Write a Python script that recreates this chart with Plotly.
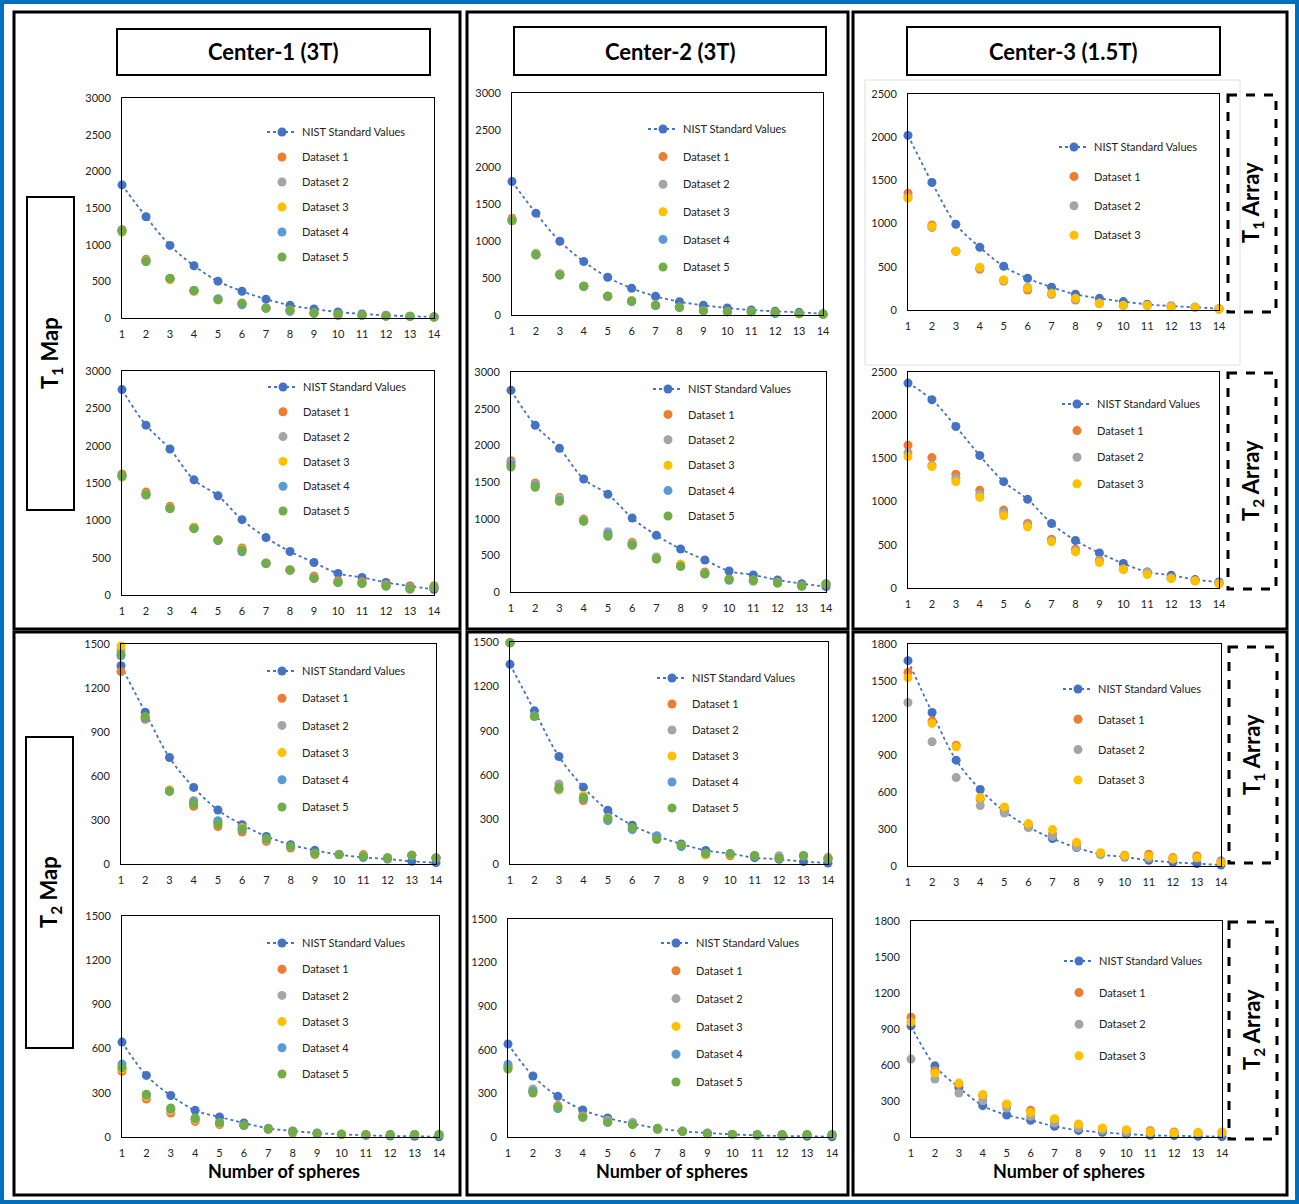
import plotly.graph_objects as go

W, H = 1299, 1204

# sphere number on the x axis
spheres = [1, 2, 3, 4, 5, 6, 7, 8, 9, 10, 11, 12, 13, 14]
tick_spheres = [1, 2, 3, 4, 5, 6, 7, 8, 9, 10, 11, 12, 13, 14]

# ---- Center-1, T1 map (upper and lower plot) ----
c1_t1a_nist = [1815, 1380, 990, 713, 502, 365, 257, 173, 122, 82, 55, 37, 24, 15]
c1_t1a_ds = [
    [1205, 800, 535, 370, 250, 195, 135, 105, 68, 32, 38, 28, 22, 14],
    [1190, 780, 540, 375, 255, 190, 133, 102, 66, 50, 36, 27, 22, 14],
    [1170, 775, 519, 361, 250, 192, 135, 105, 68, 50, 36, 27, 22, 14],
    [1185, 770, 538, 372, 262, 180, 135, 90, 66, 52, 36, 27, 22, 14],
    [1195, 771, 541, 376, 248, 203, 135, 108, 68, 54, 36, 27, 23, 14],
]
c1_t1b_nist = [2751, 2275, 1955, 1542, 1329, 1009, 769, 582, 436, 289, 236, 169, 120, 76]
c1_t1b_ds = [
    [1622, 1378, 1187, 905, 735, 631, 428, 338, 253, 191, 178, 142, 111, 124],
    [1600, 1350, 1160, 895, 740, 610, 430, 330, 230, 175, 160, 125, 76, 105],
    [1578, 1345, 1165, 911, 735, 605, 425, 335, 225, 170, 158, 122, 85, 100],
    [1590, 1340, 1158, 890, 730, 578, 422, 333, 222, 168, 155, 120, 84, 102],
    [1600, 1342, 1156, 889, 733, 600, 422, 333, 222, 169, 155, 120, 84, 102],
]

# ---- Center-2, T1 map ----
c2_t1a_nist = [1804, 1376, 997, 722, 510, 361, 253, 180, 131, 95, 68, 50, 36, 18]
c2_t1a_ds = [
    [1308, 820, 550, 385, 255, 192, 133, 106, 60, 46, 45, 32, 18, 9],
    [1290, 835, 559, 390, 253, 190, 131, 104, 59, 45, 45, 30, 18, 9],
    [1280, 815, 545, 388, 252, 189, 131, 104, 59, 45, 45, 30, 18, 9],
    [1275, 812, 541, 388, 253, 180, 131, 104, 59, 45, 45, 18, 18, 9],
    [1272, 812, 541, 388, 253, 189, 131, 104, 59, 45, 45, 32, 18, 9],
]
c2_t1b_nist = [2750, 2273, 1959, 1541, 1332, 1009, 773, 586, 436, 286, 232, 164, 114, 73]
c2_t1b_ds = [
    [1791, 1486, 1291, 995, 780, 677, 460, 360, 273, 175, 165, 132, 85, 110],
    [1768, 1464, 1280, 985, 823, 660, 477, 355, 255, 170, 145, 128, 84, 108],
    [1722, 1450, 1255, 975, 770, 650, 455, 382, 250, 172, 160, 126, 83, 109],
    [1736, 1450, 1250, 970, 795, 645, 452, 352, 248, 159, 162, 124, 82, 109],
    [1704, 1427, 1236, 964, 759, 636, 450, 350, 245, 177, 159, 123, 82, 109],
]

# ---- Center-3, T1 / T2 array (1.5T) ----
c3_t1a_nist = [2021, 1476, 993, 726, 506, 367, 263, 182, 135, 97, 66, 46, 31, 15]
c3_t1a_ds = [
    [1352, 985, 680, 471, 336, 232, 185, 116, 77, 54, 54, 39, 31, 12],
    [1310, 954, 678, 483, 345, 262, 182, 125, 77, 54, 54, 39, 31, 12],
    [1294, 966, 680, 495, 348, 255, 193, 135, 77, 54, 54, 39, 31, 12],
]
c3_t2a_nist = [2372, 2179, 1869, 1533, 1231, 1026, 747, 550, 406, 283, 186, 147, 97, 70]
c3_t2a_ds = [
    [1652, 1509, 1316, 1130, 902, 747, 565, 449, 321, 224, 170, 120, 85, 55],
    [1567, 1420, 1269, 1084, 871, 728, 550, 430, 310, 218, 186, 112, 83, 52],
    [1521, 1405, 1231, 1049, 836, 708, 534, 418, 294, 213, 155, 108, 81, 50],
]

# ---- Center-1, T2 map ----
c1_t2a_nist = [1352, 1035, 726, 522, 368, 268, 188, 132, 93, 64, 45, 34, 18, 9]
c1_t2a_ds = [
    [1312, 987, 500, 393, 256, 218, 154, 109, 64, 64, 64, 41, 59, 41],
    [1459, 1000, 500, 420, 285, 250, 165, 118, 72, 64, 55, 41, 59, 41],
    [1486, 1000, 506, 433, 280, 245, 168, 118, 72, 64, 55, 41, 59, 41],
    [1420, 995, 498, 427, 295, 235, 170, 120, 74, 64, 52, 41, 59, 41],
    [1432, 1005, 495, 408, 272, 240, 172, 120, 75, 64, 52, 41, 59, 41],
]
c1_t2b_nist = [644, 418, 282, 181, 136, 95, 59, 41, 27, 18, 11, 7, 5, 2]
c1_t2b_ds = [
    [445, 258, 163, 106, 84, 79, 54, 27, 23, 18, 16, 16, 16, 16],
    [470, 280, 185, 120, 95, 80, 54, 35, 23, 18, 16, 16, 16, 16],
    [460, 275, 180, 118, 92, 79, 54, 35, 23, 18, 16, 16, 16, 16],
    [495, 285, 190, 125, 97, 79, 54, 36, 23, 18, 16, 16, 16, 16],
    [472, 291, 197, 129, 99, 79, 54, 38, 23, 18, 16, 16, 16, 16],
]

# ---- Center-2, T2 map ----
c2_t2a_nist = [1349, 1035, 726, 519, 363, 262, 190, 135, 92, 70, 43, 32, 16, 7]
c2_t2a_ds = [
    [1495, 998, 505, 429, 300, 240, 170, 125, 65, 56, 56, 45, 56, 45],
    [1495, 1000, 541, 445, 316, 240, 170, 125, 70, 65, 56, 56, 56, 40],
    [1495, 998, 499, 462, 300, 238, 168, 123, 61, 65, 56, 40, 56, 40],
    [1495, 998, 508, 444, 293, 232, 190, 117, 70, 70, 56, 40, 56, 35],
    [1495, 999, 517, 449, 307, 246, 167, 129, 72, 68, 56, 38, 56, 34],
]
c2_t2b_nist = [640, 420, 280, 186, 131, 92, 60, 39, 28, 18, 11, 7, 5, 2]
c2_t2b_ds = [
    [480, 320, 216, 147, 105, 90, 55, 39, 23, 18, 16, 16, 16, 16],
    [485, 330, 210, 140, 115, 101, 55, 39, 23, 18, 16, 16, 16, 16],
    [475, 310, 205, 138, 103, 88, 55, 39, 23, 18, 16, 16, 16, 16],
    [500, 315, 195, 137, 102, 87, 55, 39, 23, 18, 16, 16, 16, 16],
    [468, 303, 206, 135, 101, 85, 55, 39, 23, 18, 16, 16, 16, 16],
]

# ---- Center-3, T1 / T2 array (lower block) ----
c3_t1b_nist = [1665, 1245, 858, 620, 444, 317, 222, 149, 95, 73, 46, 30, 19, 8]
c3_t1b_ds = [
    [1570, 1175, 980, 541, 471, 338, 257, 181, 100, 87, 95, 68, 81, 35],
    [1326, 1007, 717, 490, 430, 311, 241, 154, 92, 76, 65, 55, 65, 43],
    [1527, 1156, 966, 555, 479, 344, 295, 192, 108, 84, 81, 60, 68, 27],
]
c3_t2b_nist = [926, 593, 413, 261, 183, 139, 89, 55, 39, 25, 14, 11, 6, 3]
c3_t2b_ds = [
    [998, 552, 441, 344, 270, 222, 148, 100, 65, 55, 53, 42, 35, 38],
    [649, 483, 366, 302, 241, 172, 116, 75, 55, 40, 35, 30, 30, 32],
    [957, 532, 449, 355, 275, 205, 153, 108, 75, 61, 42, 33, 39, 42],
]

NIST_COLOR = '#4472C4'
DS_COLORS = ['#ED7D31', '#A5A5A5', '#FFC000', '#5B9BD5', '#70AD47']
FONT = 'Lato, Open Sans, sans-serif'


def px(x):
    return x / W


def py(y):
    return 1 - y / H


# plot box (left, right, top, bottom) in pixels, y max, y step, legend (marker x, first row y, row step)
panels = [
    (c1_t1a_nist, c1_t1a_ds, (122, 434, 98, 318), 3000, 500, (282, 132, 25.0)),
    (c1_t1b_nist, c1_t1b_ds, (122, 434, 371, 595), 3000, 500, (283, 387, 24.8)),
    (c2_t1a_nist, c2_t1a_ds, (512, 823, 93, 315), 3000, 500, (663, 129, 27.6)),
    (c2_t1b_nist, c2_t1b_ds, (511, 826, 372, 592), 3000, 500, (668, 389, 25.4)),
    (c3_t1a_nist, c3_t1a_ds, (908, 1219, 94, 310), 2500, 500, (1074, 147, 29.4)),
    (c3_t2a_nist, c3_t2a_ds, (908, 1219, 372, 588), 2500, 500, (1077, 404, 26.6)),
    (c1_t2a_nist, c1_t2a_ds, (121, 436, 644, 864), 1500, 300, (282, 671, 27.2)),
    (c1_t2b_nist, c1_t2b_ds, (122, 439, 916, 1137), 1500, 300, (282, 943, 26.2)),
    (c2_t2a_nist, c2_t2a_ds, (510, 828, 642, 864), 1500, 300, (672, 678, 26.0)),
    (c2_t2b_nist, c2_t2b_ds, (508, 832, 919, 1137), 1500, 300, (676, 943, 27.8)),
    (c3_t1b_nist, c3_t1b_ds, (908, 1221, 644, 866), 1800, 300, (1078, 689, 30.3)),
    (c3_t2b_nist, c3_t2b_ds, (911, 1222, 921, 1137), 1800, 300, (1079, 961, 31.6)),
]

fig = go.Figure()
layout = {}
ITEM_H = 19

for i, (nist, datasets, box, ymax, ystep, leg) in enumerate(panels):
    n = i + 1
    sfx = '' if n == 1 else str(n)
    xa, ya, lg = 'x' + sfx, 'y' + sfx, 'legend' + sfx
    fig.add_trace(go.Scatter(
        x=spheres, y=nist, name='NIST Standard Values', mode='lines+markers',
        line=dict(color=NIST_COLOR, width=1.8, dash='dot', shape='spline'),
        marker=dict(color=NIST_COLOR, size=9),
        xaxis=xa, yaxis=ya, legend=lg, legendgroup=f'{n}nist', cliponaxis=False,
    ))
    for k, vals in enumerate(datasets):
        fig.add_trace(go.Scatter(
            x=spheres, y=vals, name=f'Dataset {k + 1}', mode='markers',
            marker=dict(color=DS_COLORS[k], size=9),
            xaxis=xa, yaxis=ya, legend=lg, legendgroup=f'{n}d{k}', cliponaxis=False,
        ))
    x0, x1, y0, y1 = box
    layout['xaxis' + sfx] = dict(
        domain=[px(x0), px(x1)], anchor=ya, range=[1, 14],
        tickvals=tick_spheres, showline=True, linecolor='black', linewidth=1,
        mirror=True, showgrid=False, zeroline=False, ticks='',
        ticklabelstandoff=6, tickfont=dict(size=11, color='#222'),
    )
    layout['yaxis' + sfx] = dict(
        domain=[py(y1), py(y0)], anchor=xa, range=[0, ymax], dtick=ystep,
        showline=True, linecolor='black', linewidth=1, mirror=True,
        showgrid=False, zeroline=False, ticks='', ticklabelstandoff=8,
        tickfont=dict(size=11, color='#222'),
    )
    mx, fy, step = leg
    layout[lg] = dict(
        x=px(mx - 20), y=py(fy - 5 - ITEM_H / 2), xanchor='left', yanchor='top',
        bgcolor='rgba(0,0,0,0)', font=dict(size=11, color='#222'),
        tracegroupgap=step - ITEM_H,
    )


def rect(a, b, c, d, **line):
    return dict(type='rect', xref='paper', yref='paper',
                x0=px(a), x1=px(c), y0=py(b), y1=py(d), line=line)


# frames: outer blue border, six black panels, title boxes and side labels
shapes = [rect(2, 2, 1297, 1202, color='#0070C0', width=4)]
for box in [(14, 12, 460, 629), (467, 12, 848, 629), (853, 12, 1287, 629),
            (14, 632, 460, 1195), (467, 632, 848, 1195), (853, 632, 1287, 1195)]:
    shapes.append(rect(*box, color='black', width=3))
for box in [(117, 29, 430, 75), (514, 27, 826, 75), (907, 27, 1220, 75),
            (27, 197, 74, 510), (26, 737, 73, 1048)]:
    shapes.append(rect(*box, color='black', width=2))
for box in [(1228, 95, 1276, 312), (1228, 373, 1276, 589),
            (1229, 647, 1277, 863), (1229, 922, 1277, 1139)]:
    shapes.append(rect(*box, color='black', width=3, dash='dash'))
shapes.append(rect(865, 80, 1240, 365, color='#E0E0E0', width=1))


def label(text, x, y, size, angle=0):
    return dict(text=f'<b>{text}</b>', x=px(x), y=py(y), xref='paper', yref='paper',
                xanchor='center', yanchor='middle', showarrow=False, textangle=angle,
                font=dict(size=size, color='black'))


annotations = []
for text, x, y in [('Center-1 (3T)', 273, 52), ('Center-2 (3T)', 670, 51),
                   ('Center-3 (1.5T)', 1063, 51)]:
    annotations.append(label(text, x, y, 22))
for text, x, y in [('T<sub>1</sub> Map', 51, 353), ('T<sub>2</sub> Map', 50, 892),
                   ('T<sub>1</sub> Array', 1252, 203), ('T<sub>2</sub> Array', 1252, 481),
                   ('T<sub>1</sub> Array', 1253, 755), ('T<sub>2</sub> Array', 1253, 1030)]:
    annotations.append(label(text, x, y, 22, -90))
for x in [284, 672, 1069]:
    annotations.append(label('Number of spheres', x, 1171, 18))

fig.update_layout(
    width=W, height=H, margin=dict(l=0, r=0, t=0, b=0, autoexpand=False),
    paper_bgcolor='white', plot_bgcolor='white',
    font=dict(family=FONT), shapes=shapes, annotations=annotations,
    **layout,
)

# drop the page's default body margin so the figure sits at the window's corner
fig.write_html('out.html', config={'displayModeBar': False},
               post_script="document.body.style.margin = '0';")
